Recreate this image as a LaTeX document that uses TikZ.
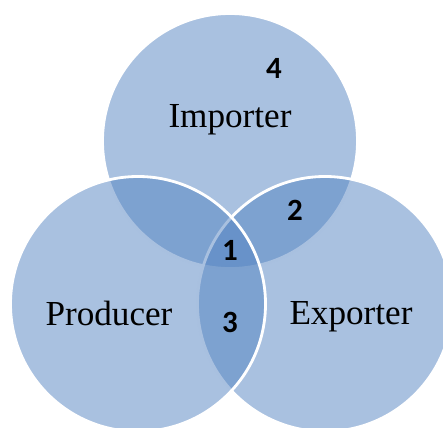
\documentclass[tikz,border=0pt]{standalone}
\usepackage{fontspec}
\setmainfont{Liberation Serif}
\newfontfamily\numfont{Carlito}
\definecolor{vennblue}{RGB}{83,131,193}

\begin{document}
\begin{tikzpicture}[x=0.025cm, y=-0.025cm,
  set/.style={fill=vennblue, fill opacity=0.5, draw=white, line width=2pt},
  setname/.style={font=\fontsize{25}{30}\selectfont},
  region/.style={font=\numfont\bfseries\fontsize{22}{26}\selectfont}]
\useasboundingbox (0, 0) rectangle (443, 428);

% the three sets, lowest first
\filldraw[set] (230, 141) circle (127.5);
\filldraw[set] (325, 304) circle (127.5);
\filldraw[set] (138, 304) circle (127.5);

\draw 
(230, 120) node[setname](imp){Importer}
(109, 313) node[setname](prod){Producer}
(351, 317) node[setname](exp){Exporter}

(274, 68) node[region](r4){4}
(230, 250) node[region](r1){1}
(295, 210) node[region](r2){2}
(230, 322) node[region](r3){3};
\end{tikzpicture}
\end{document}
